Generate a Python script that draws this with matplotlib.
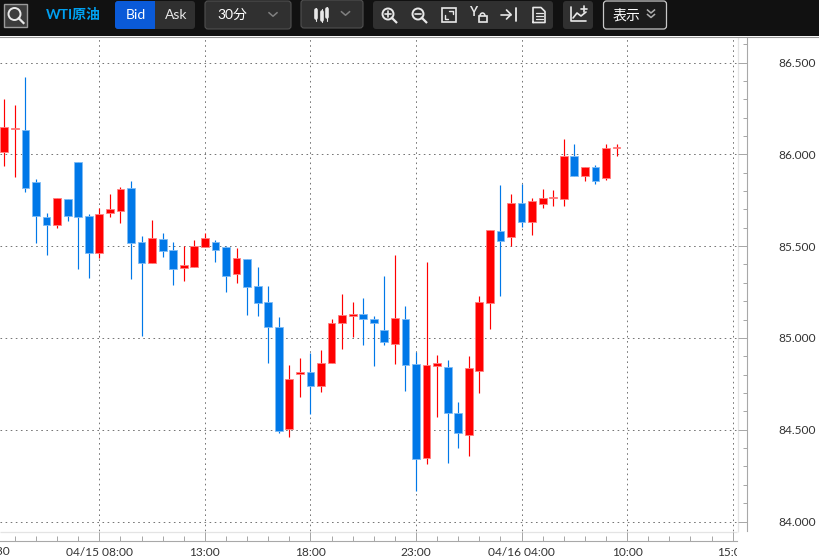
import numpy as np
import matplotlib
matplotlib.use('Agg')
import matplotlib.pyplot as plt
from matplotlib.patches import FancyBboxPatch, Rectangle, Circle, Arc
from matplotlib.ticker import FixedLocator, FuncFormatter

plt.rcParams['font.family'] = ['Lato', 'Noto Sans CJK JP', 'DejaVu Sans']

# 30 minute candles, first one sits 9 slots left of the 04/15 08:00 mark
first_slot = -9
opens = [86.015, 86.136, 86.131, 85.849, 85.659, 85.613, 85.755, 85.960, 85.664, 85.464,
         85.679, 85.690, 85.815, 85.524, 85.410, 85.539, 85.479, 85.379, 85.385, 85.497,
         85.524, 85.495, 85.348, 85.428, 85.284, 85.193, 85.059, 84.503, 84.805, 84.814,
         84.738, 84.863, 85.079, 85.121, 85.133, 85.103, 85.043, 84.968, 85.103, 84.857,
         84.344, 84.848, 84.843, 84.592, 84.469, 84.819, 85.188, 85.580, 85.550, 85.735,
         85.630, 85.729, 85.760, 85.757, 85.991, 85.882, 85.931, 85.871, 86.033]
highs = [86.300, 86.267, 86.419, 85.866, 85.679, 85.764, 85.757, 85.960, 85.673, 85.706,
         85.782, 85.820, 85.853, 85.553, 85.642, 85.572, 85.521, 85.503, 85.533, 85.572,
         85.533, 85.499, 85.492, 85.428, 85.386, 85.281, 85.112, 84.850, 84.890, 84.916,
         84.932, 85.101, 85.237, 85.195, 85.217, 85.119, 85.340, 85.451, 85.173, 84.925,
         85.411, 84.905, 84.881, 84.651, 84.901, 85.231, 85.587, 85.832, 85.784, 85.840,
         85.762, 85.811, 85.808, 86.084, 86.054, 85.931, 85.944, 86.054, 86.054]
lows = [85.938, 85.878, 85.797, 85.517, 85.452, 85.597, 85.637, 85.377, 85.328, 85.437,
        85.660, 85.628, 85.323, 85.012, 85.406, 85.441, 85.290, 85.310, 85.385, 85.493,
        85.415, 85.250, 85.301, 85.125, 85.119, 84.861, 84.480, 84.462, 84.680, 84.585,
        84.707, 84.863, 84.939, 85.005, 84.961, 84.848, 84.961, 84.857, 84.710, 84.166,
        84.311, 84.571, 84.320, 84.402, 84.358, 84.701, 85.050, 85.231, 85.501, 85.604,
        85.561, 85.706, 85.720, 85.720, 85.882, 85.853, 85.840, 85.860, 85.989]
closes = [86.149, 86.142, 85.815, 85.666, 85.613, 85.760, 85.666, 85.659, 85.464, 85.673,
          85.700, 85.811, 85.519, 85.410, 85.544, 85.474, 85.375, 85.395, 85.499, 85.544,
          85.479, 85.339, 85.434, 85.279, 85.188, 85.059, 84.493, 84.778, 84.812, 84.738,
          84.863, 85.084, 85.123, 85.128, 85.103, 85.083, 84.979, 85.108, 84.854, 84.338,
          84.852, 84.861, 84.589, 84.483, 84.834, 85.193, 85.587, 85.529, 85.735, 85.630,
          85.744, 85.764, 85.766, 85.991, 85.882, 85.931, 85.857, 86.036, 86.042]

opens, highs, lows, closes = [np.array(a) for a in (opens, highs, lows, closes)]
slots = first_slot + np.arange(len(opens))

time_slots = [0, 10, 20, 30, 40, 50, 60]
time_labels = ['04/15 08:00', '13:00', '18:00', '23:00', '04/16 04:00', '10:00', '15:00']
price_ticks = [84.0, 84.5, 85.0, 85.5, 86.0, 86.5]

RED = '#ff0000'
BLUE = '#0078e8'
GRID = '#777777'
AXIS = '#a8a8a8'
DASH = (0, (1.6, 3.5))

W, H = 819, 558
fig = plt.figure(figsize=(W / 100, H / 100), dpi=100, facecolor='white')

# chart axes, left edge to the price axis line
ax = fig.add_axes([0, (H - 541) / H, 746.7 / W, (541 - 37) / H])
ax.set_xlim(-9.41, 61.33)
ax.set_ylim(83.894, 86.639)

right_end = 60.41
ax.hlines(price_ticks, -9.41, right_end, color=GRID, lw=0.72, ls=DASH, zorder=1)
ax.vlines(time_slots, 83.894, 86.639, color=GRID, lw=0.72, ls=DASH, zorder=1)
ax.hlines(83.945, -9.41, right_end, color='#e4e4e4', lw=0.9, zorder=1)
ax.vlines(right_end + 0.07, 83.945, 86.639, color='#e4e4e4', lw=0.9, zorder=1)

up = closes >= opens
colors = np.where(up, RED, BLUE)
edges = np.where(up, '#ff8080', '#80bcf4')
ax.vlines(slots, lows, highs, color=colors, lw=0.85, zorder=2)
ax.bar(slots, np.abs(closes - opens), bottom=np.minimum(opens, closes), width=0.74,
       color=colors, edgecolor=edges, linewidth=0.6, zorder=3)

for side in ['top', 'left']:
    ax.spines[side].set_visible(False)
ax.spines['right'].set_color(AXIS)
ax.spines['right'].set_bounds(83.95, 86.639)
ax.spines['bottom'].set_color(AXIS)
ax.spines['bottom'].set_bounds(-9.41, right_end)

ax.yaxis.tick_right()
ax.yaxis.set_major_locator(FixedLocator(price_ticks))
ax.yaxis.set_minor_locator(FixedLocator(np.arange(84.0, 86.65, 0.1)))
ax.yaxis.set_major_formatter(FuncFormatter(lambda v, p: f'{v:.3f}'))
ax.tick_params(axis='y', which='major', direction='in', length=6.5, width=0.72, color=AXIS,
               pad=23, labelsize=8.6, labelcolor='#333333')
ax.tick_params(axis='y', which='minor', direction='in', length=3.2, width=0.72, color=AXIS)

ax.xaxis.set_major_locator(FixedLocator(time_slots))
ax.xaxis.set_minor_locator(FixedLocator(np.arange(-8, 61, 2)))
ax.set_xticklabels(time_labels)
ax.tick_params(axis='x', which='major', direction='in', length=6.5, width=0.72, color=AXIS,
               pad=4, labelsize=8.6, labelcolor='#333333')
ax.tick_params(axis='x', which='minor', direction='in', length=3.6, width=0.72, color=AXIS)

# toolbar drawn in pixel coordinates on top
bar = fig.add_axes([0, 0, 1, 1], facecolor='none')
bar.set_xlim(0, W)
bar.set_ylim(H, 0)
bar.axis('off')

# labels cut off at both ends of the time axis
bar.text(10, 551.5, '02:30', color='#333333', fontsize=8.6, ha='right', va='center')
bar.add_patch(Rectangle((737, 543), 40, 15, fc='white', ec='none'))
bar.add_patch(Rectangle((0, 0), W, 36, fc='#111111', ec='none'))
bar.plot([0, W], [36.5, 36.5], color='#9a9a9a', lw=0.8)


def button(x0, x1, y0=1, y1=29, fc='#303030', ec='none', lw=0.8, r=3):
    bar.add_patch(FancyBboxPatch((x0 + r, y0 + r), x1 - x0 - 2 * r, y1 - y0 - 2 * r,
                                 boxstyle=f'round,pad={r},rounding_size={r}',
                                 fc=fc, ec=ec, lw=lw))


def lens(x, y, r=5.5):
    bar.add_patch(Circle((x, y), r, fc='none', ec='#e8e8e8', lw=1.4))
    bar.plot([x + r * 0.7, x + r * 1.5], [y + r * 0.7, y + r * 1.5], color='#e8e8e8', lw=1.6)


def chevron(x, y, w=4, h=3.5, color='#808080', lw=1.1):
    bar.plot([x - w, x, x + w], [y - h / 2, y + h / 2, y - h / 2], color=color, lw=lw)


def ink(xs, ys, lw=1.2):
    bar.plot(xs, ys, color='#e8e8e8', lw=lw, solid_capstyle='round')


# search box
bar.add_patch(Rectangle((3.5, 3.5), 23, 23, fc='#3c3c3c', ec='#9a9a9a', lw=1))
lens(14.5, 14, 6)

bar.text(73.5, 15, 'WTI原油', color='#00a0f0', fontsize=10, fontweight='bold', ha='center', va='center')

# Bid / Ask
button(115, 195, fc='#303030')
button(115, 158, fc='#0a5ad8')
bar.add_patch(Rectangle((155, 1), 5, 28, fc='#303030', ec='none'))
bar.text(135.5, 15, 'Bid', color='white', fontsize=10, ha='center', va='center')
bar.text(176, 15, 'Ask', color='#e8e8e8', fontsize=10, ha='center', va='center')

# interval dropdown
button(205, 291, ec='#505050')
bar.text(232, 15, '30分', color='white', fontsize=10, ha='center', va='center')
chevron(273, 14.5)

# chart type dropdown
button(301, 363, y0=0, y1=28, ec='#505050')
for cx, t, b, bt, bb in [(316, 8, 21, 10, 18), (321.5, 9, 22, 12, 20), (327, 7, 21, 9, 17)]:
    ink([cx, cx], [t, b], lw=0.8)
    ink([cx, cx], [bt, bb], lw=2.6)
chevron(345.5, 13.5)

# tool group
button(373, 553)
lens(388, 14)
ink([385, 391], [14, 14])
ink([388, 388], [11, 17])
lens(418, 14)
ink([415, 421], [14, 14])
bar.add_patch(Rectangle((441.5, 7.5), 14, 14, fc='none', ec='#e8e8e8', lw=1.2))
ink([449, 452.5, 452.5], [10.5, 10.5, 14], lw=1)
ink([444.5, 444.5, 448], [15, 18.5, 18.5], lw=1)
bar.text(473.5, 12, 'Y', color='#e8e8e8', fontsize=9, fontweight='bold', ha='center', va='center')
bar.add_patch(Rectangle((478.5, 16), 8, 6, fc='none', ec='#e8e8e8', lw=1.2))
bar.add_patch(Arc((482.5, 16), 5, 6, theta1=180, theta2=360, ec='#e8e8e8', lw=1.1))
ink([500.5, 511], [14.5, 14.5])
ink([506.5, 511, 506.5], [10, 14.5, 19])
ink([516, 516], [8, 21], lw=1.3)
ink([533, 533, 541, 545, 545, 533], [22.5, 7.5, 7.5, 11.5, 22.5, 22.5], lw=1.2)
for ly in [13, 16, 19]:
    ink([535.5, 542.5], [ly, ly], lw=0.9)

# indicator button
button(563, 593)
ink([571, 571, 586], [7, 21, 21])
ink([573, 577, 581, 586], [18, 13, 16, 12])
ink([581, 587], [8.5, 8.5])
ink([584, 584], [5.5, 11.5])

# display dropdown
button(603.5, 666.5, fc='#1c1c1c', ec='#c8c8c8', lw=0.9)
bar.text(626.5, 15, '表示', color='white', fontsize=10, ha='center', va='center')
chevron(651, 11.5, w=3.5, h=3, color='#b0b0b0')
chevron(651, 16, w=3.5, h=3, color='#b0b0b0')

fig.savefig('out.png', dpi=100)
